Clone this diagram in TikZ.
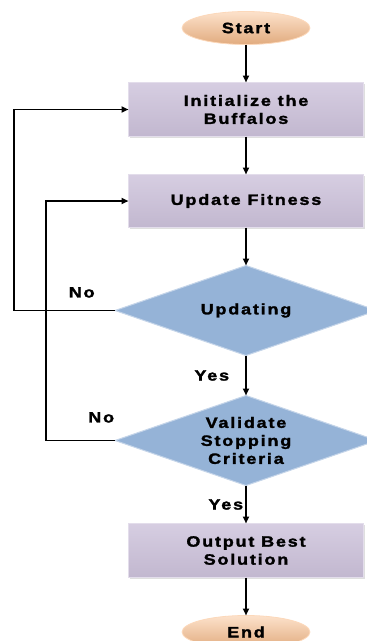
\documentclass[tikz,border=0pt]{standalone}
\usepackage{fontspec}
\setmainfont{Liberation Sans}[FakeStretch=1.2, FakeBold=1.8, LetterSpace=12]
\usepackage{xcolor}
\usepackage{tikz}
\usetikzlibrary{shapes.geometric,arrows.meta,positioning,shadows}
\definecolor{termorange}{RGB}{250,190,140}
\definecolor{procpurple}{RGB}{204,193,218}
\definecolor{decblue}{RGB}{149,179,215}

\begin{document}
\begin{tikzpicture}[
  x=1pt, y=1pt,
  font=\fontsize{15}{18}\selectfont\bfseries, node distance=38pt,
  term/.style={ellipse, top color=termorange!45!white, middle color=termorange, bottom color=termorange!90!black, draw=termorange!60!white, line width=0.8pt, outer sep=0pt, minimum width=128pt, minimum height=33pt, inner sep=0pt},
  proc/.style={draw=procpurple!55!white, line width=1.2pt, outer sep=0pt, top color=procpurple!80!white, bottom color=procpurple!95!black, minimum width=235pt, minimum height=54pt, align=center, drop shadow={opacity=0.25, shadow xshift=1.5pt, shadow yshift=-1.5pt}},
  dec/.style={diamond, aspect=2.9, draw=decblue!55!white, line width=1pt, outer sep=0pt, fill=decblue, minimum width=262pt, minimum height=90pt, inner sep=-5pt, align=center},
  arr/.style={-{Triangle[length=7pt, width=6pt]}, line width=1.8pt, black},
  lbl/.style={inner sep=2pt}
]
  \useasboundingbox (0,0) rectangle (367,-641);

  \node[term] (start) at (246,-28) {Start};
  \node[proc, below=of start]          (init) {Initialize the\\Buffalos};
  \node[proc, below=of init, minimum height=53pt] (fit) {Update Fitness};
  \node[dec, below=of fit]             (upd)  {Updating};
  \node[dec, below=40pt of upd]        (val)  {Validate\\Stopping\\Criteria};
  \node[proc, below=of val]            (out)  {Output Best\\Solution};
  \node[term, below=of out]            (stop) {End};

  \foreach \a/\b in {start/init, init/fit, fit/upd, out/stop}{
    \draw[arr] (\a)--(\b);
  }
  \draw[arr] (upd)--(val) node[lbl, left=14pt, midway]{Yes};
  \draw[arr] (val)--(out) node[lbl, left=0pt, midway]{Yes};

  % loops back
  \draw[arr] (upd.west) -- node[lbl, above=10pt, pos=0.33]{No} ++(-101,0) |- (init.west);
  \draw[arr] (val.west) -- node[lbl, above=15pt, pos=0.2]{No} ++(-69,0) |- (fit.west);
\end{tikzpicture}
\end{document}
